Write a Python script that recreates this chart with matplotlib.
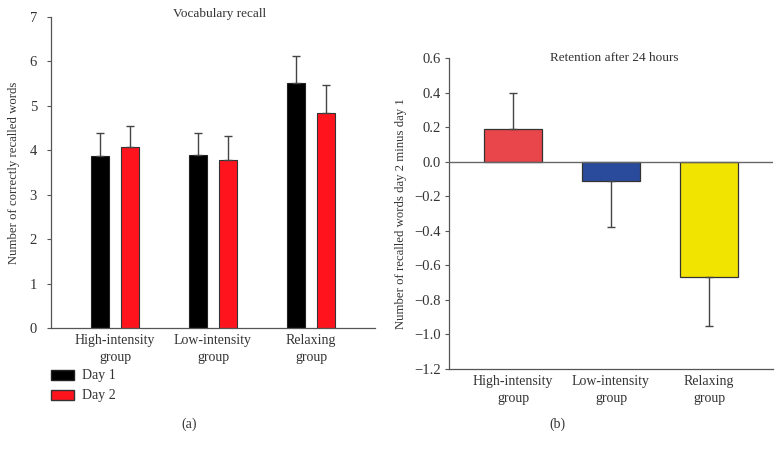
import numpy as np
import matplotlib
matplotlib.use("Agg")
import matplotlib.pyplot as plt
from matplotlib.patches import Patch

plt.rcParams['font.family'] = ['Liberation Serif', 'DejaVu Serif']

# data
groups = ['High-intensity\ngroup', 'Low-intensity\ngroup', 'Relaxing\ngroup']
day1 = [3.88, 3.90, 5.52]
day1_err = [0.52, 0.50, 0.61]
day2 = [4.08, 3.78, 4.85]
day2_err = [0.46, 0.54, 0.61]

retention = [0.19, -0.11, -0.67]
retention_err = [0.21, 0.27, 0.28]
retention_colors = ['#E8464A', '#2A4B9C', '#F0E400']

fs = 10.5
ink = '#333333'
fig = plt.figure(figsize=(7.82, 4.5), dpi=100)


def fmt(v, p):
    if abs(v) < 1e-9:
        return '0.0'
    return f'{v:.1f}'.replace('-', '\u2212')


# panel (a)
ax1 = fig.add_axes([51/782, 1 - 328/450, 324/782, 311/450])
x = np.arange(len(groups))
off = 0.153
w = 0.19
ekw = dict(ecolor='#444444', elinewidth=1.0, capsize=3.2, capthick=1.0)
ax1.bar(x - off, day1, w, color='#000000', edgecolor='#222222', linewidth=0.8,
        yerr=[np.zeros(3), day1_err], error_kw=ekw, zorder=2)
ax1.bar(x + off, day2, w, color='#FF141E', edgecolor='#333333', linewidth=0.8,
        yerr=[np.zeros(3), day2_err], error_kw=ekw, zorder=2)
ax1.set_xlim(-0.653, 2.653)
ax1.set_ylim(0, 7)
ax1.set_yticks(range(0, 8))
ax1.set_xticks(x)
ax1.set_xticklabels(groups, fontsize=fs - 0.5, color=ink, linespacing=1.45)
ax1.tick_params(axis='x', length=0, pad=4)
ax1.tick_params(axis='y', labelsize=fs, colors='#555555', labelcolor=ink, length=3, width=0.8, pad=7)
ax1.set_ylabel('Number of correctly recalled words', fontsize=9.2, color=ink, labelpad=7)
ax1.text(0.52, 1.01, 'Vocabulary recall', transform=ax1.transAxes, ha='center', va='center',
         fontsize=fs - 1, color=ink)
for s in ['top', 'right']:
    ax1.spines[s].set_visible(False)
for s in ['left', 'bottom']:
    ax1.spines[s].set_color('#555555')
    ax1.spines[s].set_linewidth(0.9)

handles = [Patch(facecolor='#000000', edgecolor='#222222', label='Day 1'),
           Patch(facecolor='#FF141E', edgecolor='#333333', label='Day 2')]
fig.legend(handles=handles, loc='upper left', bbox_to_anchor=(38/782, 1 - 357/450),
           frameon=False, fontsize=fs - 0.5, handlelength=1.7, handleheight=0.75,
           handletextpad=0.6, labelspacing=0.5, labelcolor=ink)
fig.text(189/782, 1 - 424/450, '(a)', ha='center', va='center', fontsize=fs - 0.5, color=ink)

# panel (b)
ax2 = fig.add_axes([449/782, 1 - 369/450, 324/782, 311/450])
lower = [0 if v > 0 else e for v, e in zip(retention, retention_err)]
upper = [e if v > 0 else 0 for v, e in zip(retention, retention_err)]
ax2.bar(x, retention, 0.6, color=retention_colors, edgecolor='#333333', linewidth=0.9,
        yerr=[lower, upper], error_kw=ekw, zorder=2)
ax2.axhline(0, color='#666666', linewidth=1.0, zorder=3)
ax2.set_xlim(-0.653, 2.653)
ax2.set_ylim(-1.2, 0.6)
ax2.set_yticks(np.arange(-1.2, 0.61, 0.2))
ax2.yaxis.set_major_formatter(plt.FuncFormatter(fmt))
ax2.set_xticks(x)
ax2.set_xticklabels(groups, fontsize=fs - 0.5, color=ink, linespacing=1.45)
ax2.tick_params(axis='x', length=0, pad=4)
ax2.tick_params(axis='y', labelsize=fs, colors='#555555', labelcolor=ink, length=3, width=0.8, pad=3)
ax2.set_ylabel('Number of recalled words day 2 minus day 1', fontsize=9.2, color=ink, labelpad=5)
ax2.text(0.51, 1.0, 'Retention after 24 hours', transform=ax2.transAxes, ha='center', va='center',
         fontsize=fs - 1, color=ink)
for s in ['top', 'right']:
    ax2.spines[s].set_visible(False)
for s in ['left', 'bottom']:
    ax2.spines[s].set_color('#555555')
    ax2.spines[s].set_linewidth(0.9)
fig.text(557/782, 1 - 424/450, '(b)', ha='center', va='center', fontsize=fs - 0.5, color=ink)

fig.savefig('out.png', dpi=100)
